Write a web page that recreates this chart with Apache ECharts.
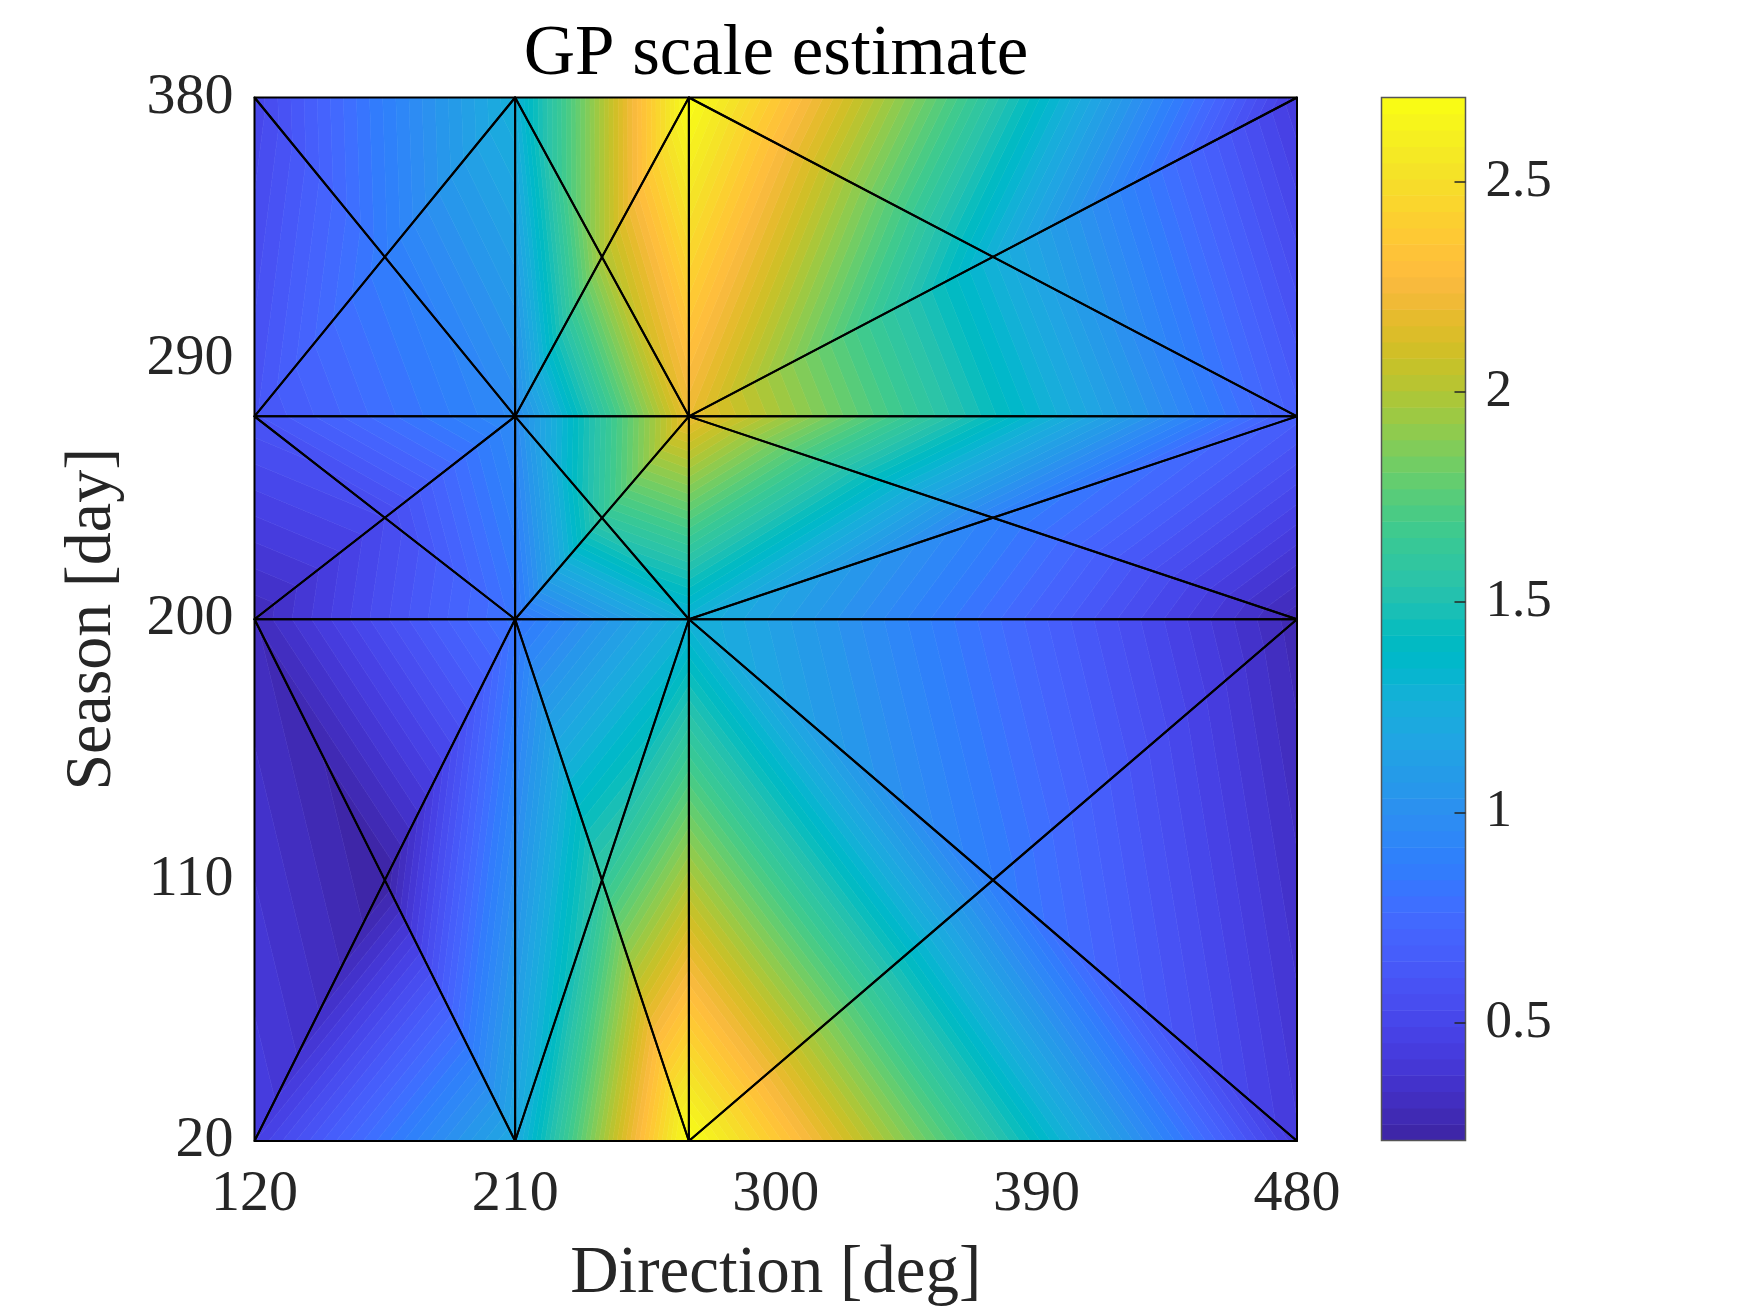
<!DOCTYPE html>
<html>
<head>
<meta charset="utf-8">
<style>
  html, body { margin: 0; padding: 0; background: #fff; }
  #chart { width: 1750px; height: 1313px; }
</style>
<script src="https://cdn.jsdelivr.net/npm/echarts@6/dist/echarts.min.js"></script>
</head>
<body>
<div id="chart"></div>
<script>
const FONT = '"Liberation Serif", serif'

// mesh nodes
const directionGrid = [120, 210, 270, 480]
const seasonGrid = [20, 200, 270, 380]
// scale estimate at the grid corners, one row per season (bottom to top)
const cornerValues = [
  [0.45, 1.20, 2.70, 0.42],
  [0.30, 0.82, 1.28, 0.27],
  [0.60, 0.97, 2.20, 0.66],
  [0.50, 1.27, 2.70, 0.42],
]
// scale estimate at the cell centres
const centreValues = [
  [0.22, 1.60, 0.88],
  [0.53, 1.60, 0.90],
  [0.87, 1.98, 1.27],
]

const directionTicks = [120, 210, 300, 390, 480]
const seasonTicks = [20, 110, 200, 290, 380]
const colorbarTicks = [0.5, 1, 1.5, 2, 2.5]
const colorMin = 0.22
const colorMax = 2.70

// old matlab parula, 64 levels
const parula = [
  [0.2422,0.1504,0.6603],[0.2504,0.1650,0.7076],[0.2578,0.1818,0.7511],[0.2647,0.1978,0.7952],
  [0.2706,0.2147,0.8364],[0.2751,0.2342,0.8710],[0.2783,0.2559,0.8991],[0.2803,0.2782,0.9221],
  [0.2813,0.3006,0.9414],[0.2810,0.3228,0.9579],[0.2795,0.3447,0.9717],[0.2760,0.3667,0.9829],
  [0.2699,0.3892,0.9906],[0.2602,0.4123,0.9952],[0.2440,0.4358,0.9988],[0.2206,0.4603,0.9973],
  [0.1963,0.4847,0.9892],[0.1834,0.5074,0.9798],[0.1786,0.5289,0.9682],[0.1764,0.5499,0.9520],
  [0.1687,0.5703,0.9359],[0.1540,0.5902,0.9218],[0.1460,0.6091,0.9079],[0.1380,0.6276,0.8973],
  [0.1248,0.6459,0.8883],[0.1113,0.6635,0.8763],[0.0952,0.6798,0.8598],[0.0689,0.6948,0.8394],
  [0.0297,0.7082,0.8163],[0.0036,0.7203,0.7917],[0.0067,0.7312,0.7660],[0.0433,0.7411,0.7394],
  [0.0964,0.7500,0.7120],[0.1408,0.7584,0.6842],[0.1717,0.7670,0.6554],[0.1938,0.7758,0.6251],
  [0.2161,0.7843,0.5923],[0.2470,0.7918,0.5567],[0.2906,0.7973,0.5188],[0.3406,0.8008,0.4789],
  [0.3909,0.8029,0.4354],[0.4456,0.8024,0.3909],[0.5044,0.7993,0.3480],[0.5616,0.7942,0.3045],
  [0.6174,0.7876,0.2612],[0.6720,0.7793,0.2227],[0.7242,0.7698,0.1910],[0.7738,0.7598,0.1646],
  [0.8203,0.7498,0.1535],[0.8634,0.7406,0.1596],[0.9035,0.7330,0.1774],[0.9393,0.7288,0.2100],
  [0.9728,0.7298,0.2394],[0.9956,0.7434,0.2371],[0.9970,0.7659,0.2199],[0.9952,0.7893,0.2028],
  [0.9892,0.8136,0.1885],[0.9786,0.8386,0.1766],[0.9676,0.8639,0.1643],[0.9610,0.8890,0.1537],
  [0.9597,0.9135,0.1423],[0.9628,0.9373,0.1265],[0.9691,0.9606,0.1064],[0.9769,0.9839,0.0805],
]
const bandColors = parula.map(c => `rgb(${c.map(x => Math.round(x * 255)).join(',')})`)
const bandSize = (colorMax - colorMin) / bandColors.length

// every grid cell splits into 4 triangles around its centre
const triangles = []
for (let r = 0; r < seasonGrid.length - 1; r++) {
  for (let c = 0; c < directionGrid.length - 1; c++) {
    const sw = [directionGrid[c], seasonGrid[r], cornerValues[r][c]]
    const se = [directionGrid[c + 1], seasonGrid[r], cornerValues[r][c + 1]]
    const nw = [directionGrid[c], seasonGrid[r + 1], cornerValues[r + 1][c]]
    const ne = [directionGrid[c + 1], seasonGrid[r + 1], cornerValues[r + 1][c + 1]]
    const mid = [(sw[0] + se[0]) / 2, (sw[1] + nw[1]) / 2, centreValues[r][c]]
    triangles.push([sw, se, mid], [se, ne, mid], [ne, nw, mid], [nw, sw, mid])
  }
}

// keep the part of a polygon where sign * (value - limit) >= 0
function clipByValue(poly, limit, sign) {
  const out = []
  poly.forEach((p, i) => {
    const q = poly[(i + 1) % poly.length]
    const dp = sign * (p[2] - limit)
    const dq = sign * (q[2] - limit)
    if (dp >= 0) out.push(p)
    if ((dp > 0 && dq < 0) || (dp < 0 && dq > 0)) {
      const t = dp / (dp - dq)
      out.push([p[0] + t * (q[0] - p[0]), p[1] + t * (q[1] - p[1]), limit])
    }
  })
  return out
}

function renderTriangle(params, api) {
  const tri = triangles[params.dataIndex]
  const children = []
  bandColors.forEach((color, i) => {
    const lo = i === 0 ? -Infinity : colorMin + i * bandSize
    const hi = i === bandColors.length - 1 ? Infinity : colorMin + (i + 1) * bandSize
    let poly = tri
    if (lo !== -Infinity) poly = clipByValue(poly, lo, 1)
    if (hi !== Infinity && poly.length) poly = clipByValue(poly, hi, -1)
    if (poly.length < 3) return
    children.push({
      type: 'polygon',
      shape: { points: poly.map(p => api.coord([p[0], p[1]])) },
      style: { fill: color, stroke: color, lineWidth: 0.6 },
    })
  })
  return { type: 'group', children }
}

function renderEdges(params, api) {
  const tri = triangles[params.dataIndex]
  return {
    type: 'polygon',
    shape: { points: tri.map(p => api.coord([p[0], p[1]])) },
    style: { fill: 'none', stroke: '#000', lineWidth: 2, lineJoin: 'round' },
  }
}

function renderBand(params, api) {
  const i = params.dataIndex
  const a = api.coord([0, colorMin + i * bandSize])
  const b = api.coord([1, colorMin + (i + 1) * bandSize])
  return {
    type: 'rect',
    shape: { x: a[0], y: b[1], width: b[0] - a[0], height: a[1] - b[1] + 0.5 },
    style: { fill: bandColors[i] },
  }
}

function renderFrame(params, api) {
  const a = api.coord([0, colorMin])
  const b = api.coord([1, colorMax])
  return {
    type: 'rect',
    shape: { x: a[0], y: b[1], width: b[0] - a[0], height: a[1] - b[1] },
    style: { fill: 'none', stroke: '#555', lineWidth: 1.5 },
  }
}

const labelStyle = { color: '#262626', fontFamily: FONT, fontSize: 58 }

const chart = echarts.init(document.getElementById('chart'), null, { renderer: 'canvas' })
chart.setOption({
  animation: false,
  backgroundColor: '#fff',
  title: {
    text: 'GP scale estimate',
    left: 771,
    top: 15,
    textAlign: 'center',
    textStyle: { color: '#000', fontFamily: FONT, fontSize: 71, fontWeight: 'normal' },
  },
  grid: [
    { left: 254.5, top: 97.5, width: 1042.5, height: 1045 },
    { left: 1381.5, top: 97.5, width: 84, height: 1043 },
  ],
  xAxis: [
    {
      gridIndex: 0, type: 'value', min: 120, max: 480,
      name: 'Direction [deg]', nameLocation: 'middle', nameGap: 100,
      nameTextStyle: { ...labelStyle, fontSize: 67 },
      axisLine: { show: false }, axisTick: { show: false }, splitLine: { show: false },
      axisLabel: { ...labelStyle, margin: 25, customValues: directionTicks },
    },
    {
      gridIndex: 1, type: 'value', min: 0, max: 1,
      axisLine: { show: false }, axisTick: { show: false }, splitLine: { show: false },
      axisLabel: { show: false },
    },
  ],
  yAxis: [
    {
      gridIndex: 0, type: 'value', min: 20, max: 380,
      name: 'Season [day]', nameLocation: 'middle', nameGap: 129,
      nameTextStyle: { ...labelStyle, fontSize: 66 },
      axisLine: { show: false }, axisTick: { show: false }, splitLine: { show: false },
      axisLabel: { ...labelStyle, margin: 21, customValues: seasonTicks },
    },
    {
      gridIndex: 1, type: 'value', min: colorMin, max: colorMax, position: 'right', z: 10,
      axisLine: { show: false, onZero: false }, splitLine: { show: false },
      axisTick: { show: true, inside: true, length: 11, customValues: colorbarTicks,
        lineStyle: { color: '#262626', width: 1.5 } },
      axisLabel: { ...labelStyle, fontSize: 53, margin: 20, customValues: colorbarTicks,
        formatter: v => String(v) },
    },
  ],
  series: [
    {
      type: 'custom', xAxisIndex: 0, yAxisIndex: 0, renderItem: renderTriangle, z: 2,
      data: triangles.map((t, i) => [t[0][0], t[0][1], i]), silent: true, clip: false,
    },
    {
      type: 'custom', xAxisIndex: 0, yAxisIndex: 0, renderItem: renderEdges, z: 3,
      data: triangles.map((t, i) => [t[0][0], t[0][1], i]), silent: true, clip: false,
    },
    {
      type: 'custom', xAxisIndex: 1, yAxisIndex: 1, renderItem: renderBand, z: 2,
      data: bandColors.map((c, i) => [0, colorMin + i * bandSize]), silent: true,
    },
    {
      type: 'custom', xAxisIndex: 1, yAxisIndex: 1, renderItem: renderFrame, z: 3,
      data: [[0, colorMin]], silent: true,
    },
  ],
})
</script>
</body>
</html>
